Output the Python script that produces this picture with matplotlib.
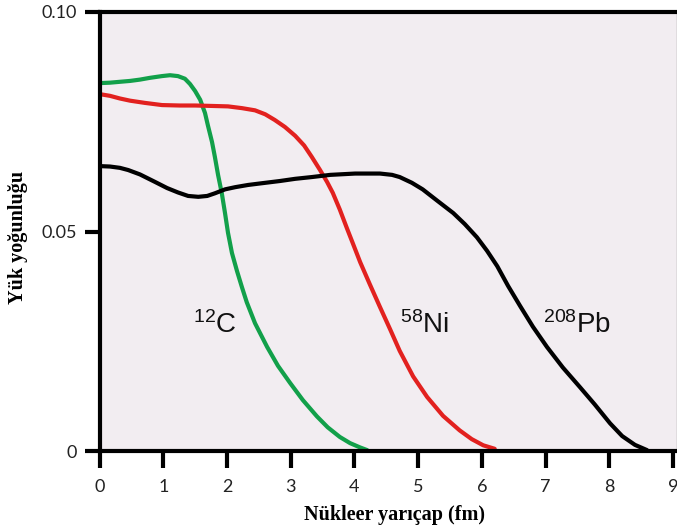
import matplotlib
matplotlib.use("Agg")
import matplotlib.pyplot as plt

plt.rcParams['mathtext.fontset'] = 'custom'
plt.rcParams['mathtext.rm'] = 'Liberation Sans'
plt.rcParams['mathtext.it'] = 'Liberation Sans'

# Data (r in fm, charge density)
c_r = [0.0, 0.165, 0.32, 0.48, 0.635, 0.79, 0.98, 1.106, 1.23, 1.34, 1.42, 1.50,
       1.58, 1.655, 1.70, 1.765, 1.81, 1.86, 1.92, 1.969, 2.016, 2.078, 2.157,
       2.235, 2.31, 2.44, 2.63, 2.80, 2.99, 3.19, 3.41, 3.58, 3.77, 3.93, 4.09, 4.20]
c_rho = [0.0838, 0.0839, 0.0841, 0.0843, 0.0846, 0.0850, 0.0854, 0.0856, 0.0854,
         0.0848, 0.0836, 0.0820, 0.0800, 0.0770, 0.0742, 0.0704, 0.0670, 0.0629,
         0.0586, 0.0542, 0.0497, 0.0451, 0.0410, 0.0373, 0.0339, 0.0291, 0.0237,
         0.0194, 0.0155, 0.0116, 0.0079, 0.0054, 0.0032, 0.0018, 0.0008, 0.0002]

ni_r = [0.0, 0.165, 0.32, 0.48, 0.71, 0.98, 1.26, 1.50, 1.765, 2.016, 2.235, 2.44,
        2.60, 2.75, 2.91, 3.07, 3.21, 3.33, 3.46, 3.57, 3.66, 3.77, 3.88, 3.98,
        4.09, 4.24, 4.40, 4.56, 4.71, 4.92, 5.14, 5.39, 5.65, 5.84, 6.02, 6.20]
ni_rho = [0.0813, 0.0809, 0.0803, 0.0798, 0.0793, 0.0788, 0.0787, 0.0787, 0.0786,
          0.0785, 0.0781, 0.0776, 0.0767, 0.0754, 0.0738, 0.0718, 0.0696, 0.0670,
          0.0640, 0.0613, 0.0588, 0.0550, 0.0508, 0.0471, 0.0430, 0.0380, 0.0328,
          0.0277, 0.0228, 0.0170, 0.0123, 0.0080, 0.0047, 0.0027, 0.0013, 0.0005]

pb_r = [0.0, 0.165, 0.32, 0.45, 0.635, 0.87, 1.06, 1.23, 1.39, 1.55, 1.69, 1.81,
        1.97, 2.13, 2.33, 2.55, 2.83, 3.07, 3.33, 3.62, 4.01, 4.40, 4.59, 4.71,
        4.90, 5.07, 5.30, 5.55, 5.73, 5.92, 6.08, 6.24, 6.41, 6.60, 6.80, 7.02,
        7.27, 7.54, 7.77, 8.01, 8.20, 8.40, 8.59]
pb_rho = [0.0649, 0.0648, 0.0645, 0.0640, 0.0630, 0.0613, 0.0599, 0.0589, 0.0581,
          0.0579, 0.0581, 0.0587, 0.0596, 0.0601, 0.0606, 0.0610, 0.0615, 0.0620,
          0.0624, 0.0629, 0.0632, 0.0632, 0.0629, 0.0624, 0.0611, 0.0596, 0.0570,
          0.0542, 0.0517, 0.0487, 0.0456, 0.0421, 0.0376, 0.0330, 0.0283, 0.0237,
          0.0190, 0.0145, 0.0106, 0.0063, 0.0034, 0.0014, 0.0002]

x_ticks = [0, 1, 2, 3, 4, 5, 6, 7, 8, 9]
y_ticks = [0, 0.05, 0.10]
y_tick_labels = ['0', '0.05', '0.10']

labels = [r'$^{12}$C', r'$^{58}$Ni', r'$^{208}$Pb']
label_x = [1.467, 4.71, 6.96]
label_y = [0.0269, 0.0269, 0.0269]

green = '#12A04A'
red = '#E2211F'
black = '#000000'

fig = plt.figure(figsize=(6.77, 5.26), dpi=100)
ax = fig.add_axes([99.5 / 677, 1 - 451 / 526, (677 - 99.5) / 677, (451 - 12) / 526])
ax.set_facecolor('#F2EDF1')

kw = dict(lw=3.0, solid_capstyle='round', solid_joinstyle='round')
ax.plot(c_r, c_rho, color=green, **kw)
ax.plot(ni_r, ni_rho, color=red, **kw)
ax.plot(pb_r, pb_rho, color=black, **kw)

ax.set_xlim(0, 9.06)
ax.set_ylim(0, 0.10)

for s in ['left', 'bottom', 'top']:
    ax.spines[s].set_linewidth(3.0)
    ax.spines[s].set_color('black')
ax.spines['right'].set_linewidth(1.0)
ax.spines['right'].set_color('#999999')

ax.set_xticks(x_ticks)
ax.set_xticklabels([str(v) for v in x_ticks])
ax.set_yticks(y_ticks)
ax.set_yticklabels(y_tick_labels)
ax.tick_params(axis='x', length=12, width=3, pad=8, labelsize=13)
ax.tick_params(axis='y', length=11, width=3, pad=5, labelsize=13)
for t in ax.get_xticklabels() + ax.get_yticklabels():
    t.set_fontfamily('Lato')
    t.set_color('#222222')

for lab, lx, ly in zip(labels, label_x, label_y):
    ax.text(lx, ly, lab, fontsize=20, family='Liberation Sans', ha='left',
            va='baseline', color='#111111')

fig.text(395 / 677, 1 - 515 / 526, 'Nükleer yarıçap (fm)', family='Liberation Serif',
         fontweight='bold', fontsize=14.5, ha='center', va='center')
fig.text(18 / 677, 1 - 237 / 526, 'Yük yoğunluğu', family='Liberation Serif',
         fontweight='bold', fontsize=14.5, ha='center', va='center', rotation=90)

fig.savefig('out.png', dpi=100)
